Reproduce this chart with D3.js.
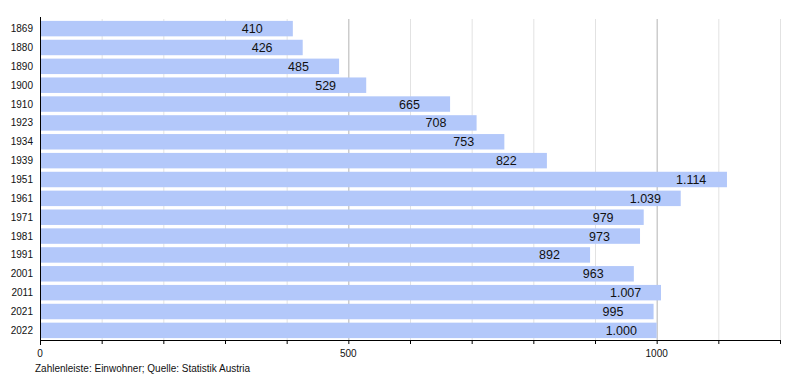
<!DOCTYPE html>
<html><head><meta charset="utf-8">
<script src="https://cdn.jsdelivr.net/npm/d3@7"></script>
<style>body{margin:0;background:#fff}svg{display:block;font-family:"Liberation Sans",Arial,sans-serif}</style>
</head><body>
<svg id="c" width="800" height="380"></svg>
<script>
const years = ["1869","1880","1890","1900","1910","1923","1934","1939","1951","1961","1971","1981","1991","2001","2011","2021","2022"];
const values = [410,426,485,529,665,708,753,822,1114,1039,979,973,892,963,1007,995,1000];
const labels = ["410","426","485","529","665","708","753","822","1.114","1.039","979","973","892","963","1.007","995","1.000"];
const majorTicks = [0,500,1000];
const minorTicks = [100,200,300,400,600,700,800,900,1100,1200];

const svg = d3.select("#c");
const mLeft = 40, mRight = 780, mTop = 19, mBottom = 340;
const x = d3.scaleLinear().domain([0,1200]).range([mLeft,mRight]);
const y = d3.scaleBand().domain(years).range([mTop, mBottom]).paddingInner(0.18).paddingOuter(0.1);

svg.append("g").selectAll("line").data(minorTicks).join("line")
  .attr("x1",d=>x(d)+0.5).attr("x2",d=>x(d)+0.5).attr("y1",mTop).attr("y2",mBottom)
  .attr("stroke","#e2e2e2").attr("stroke-width",1);
svg.append("g").selectAll("line").data(majorTicks.slice(1)).join("line")
  .attr("x1",d=>x(d)+0.5).attr("x2",d=>x(d)+0.5).attr("y1",mTop).attr("y2",mBottom)
  .attr("stroke","#b4b4b4").attr("stroke-width",1);

svg.append("g").selectAll("rect").data(values).join("rect")
  .attr("x",x(0)+1).attr("y",(d,i)=>y(years[i]))
  .attr("width",d=>x(d)-x(0)-1).attr("height",y.bandwidth())
  .attr("fill","#b3c8fa");

svg.append("g").selectAll("text").data(values).join("text")
  .attr("x",d=>x(d)-51).attr("y",(d,i)=>y(years[i])+y.bandwidth()/2)
  .attr("dy","0.36em").attr("font-size",12.5).attr("fill","#111")
  .text((d,i)=>labels[i]);

svg.append("g").selectAll("text").data(years).join("text")
  .attr("x",33).attr("y",d=>y(d)+y.bandwidth()/2).attr("dy","0.35em")
  .attr("text-anchor","end").attr("font-size",10).attr("fill","#111").text(d=>d);

svg.append("line").attr("x1",mLeft+0.5).attr("x2",mLeft+0.5).attr("y1",mTop-2).attr("y2",mBottom+5)
  .attr("stroke","#000");
svg.append("line").attr("x1",mLeft).attr("x2",mRight+1).attr("y1",mBottom+0.5).attr("y2",mBottom+0.5)
  .attr("stroke","#000");
svg.append("g").selectAll("line").data(majorTicks.concat(minorTicks)).join("line")
  .attr("x1",d=>x(d)+0.5).attr("x2",d=>x(d)+0.5).attr("y1",mBottom).attr("y2",mBottom+4)
  .attr("stroke","#000");
svg.append("g").selectAll("text").data(majorTicks).join("text")
  .attr("x",d=>x(d)).attr("y",mBottom+17).attr("text-anchor","middle")
  .attr("font-size",10).attr("fill","#111").text(d=>d);

svg.append("text").attr("x",35).attr("y",372).attr("font-size",10).attr("fill","#111")
  .text("Zahlenleiste: Einwohner; Quelle: Statistik Austria");
</script>
</body></html>
